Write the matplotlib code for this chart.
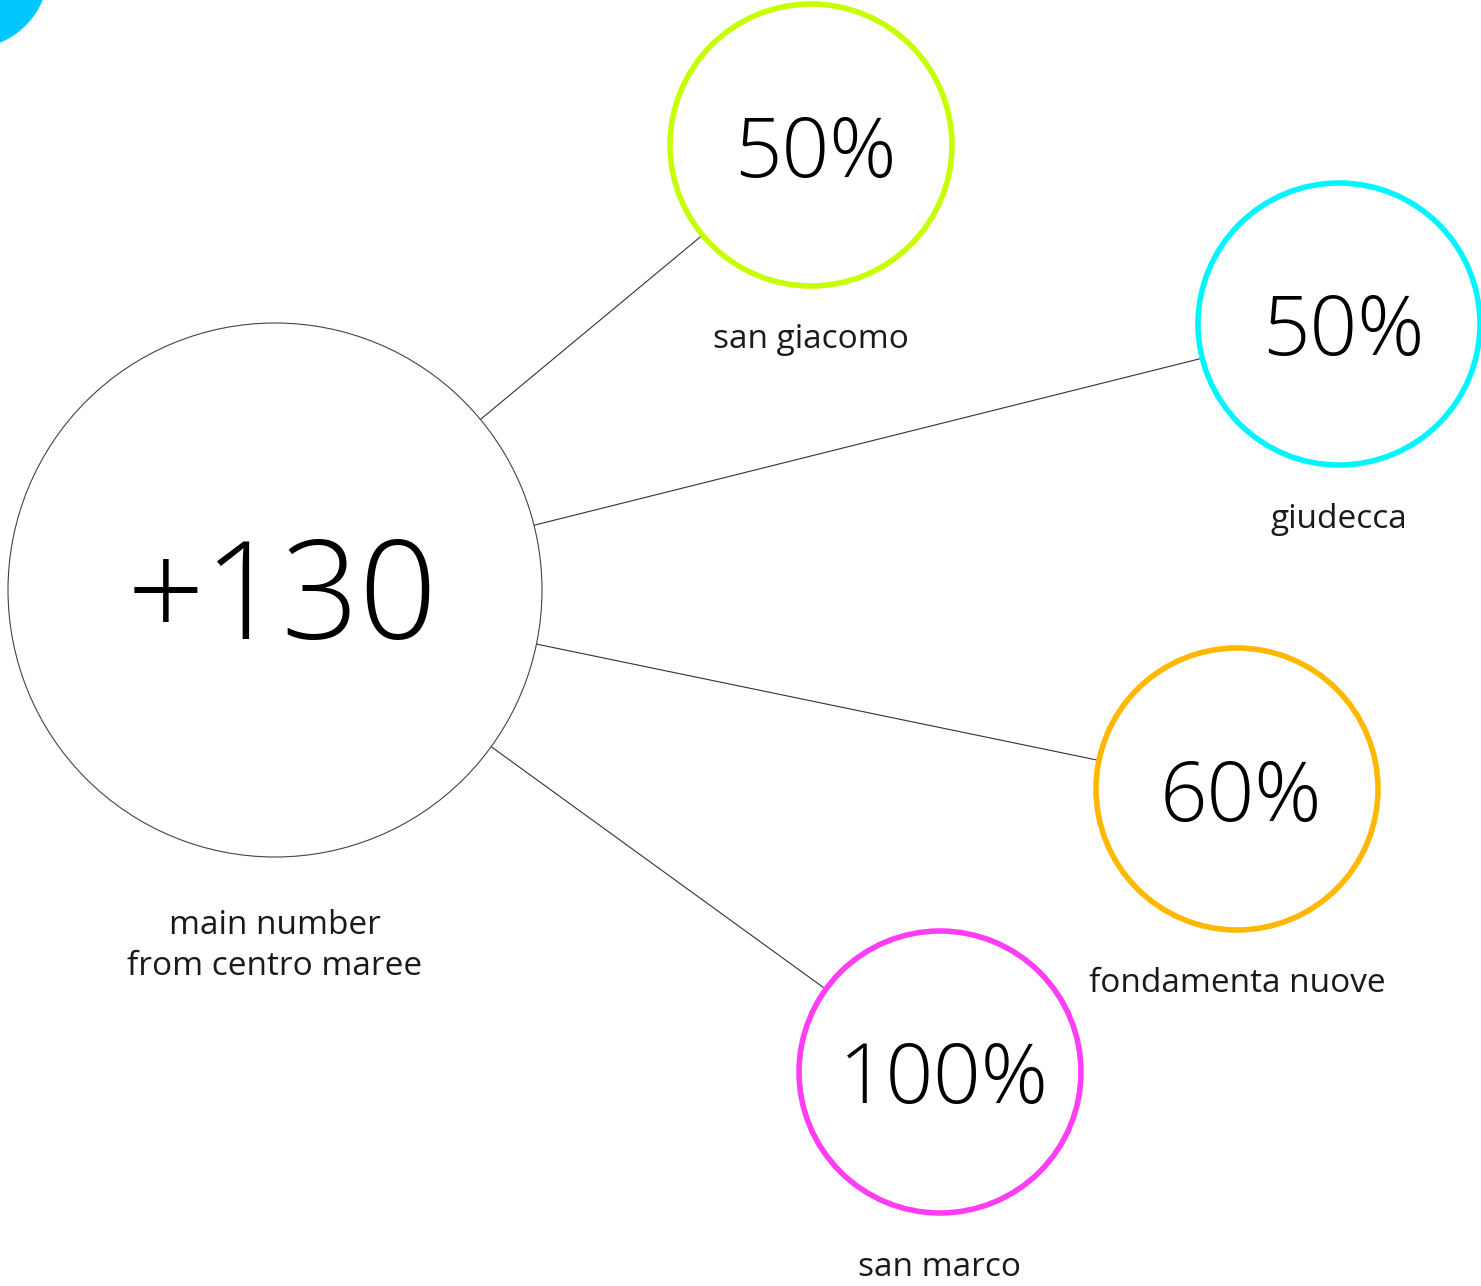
import matplotlib
matplotlib.use("Agg")
import matplotlib.pyplot as plt
from matplotlib.patches import Circle

# data
main_value = "+130"
main_label = "main number\nfrom centro maree"
places = ["san giacomo", "giudecca", "fondamenta nuove", "san marco"]
shares = [50, 50, 60, 100]

# layout (pixel space) and styles
W, H = 1481, 1286
main_xy, main_r = (275, 590), 267
small_xy = [(811, 145), (1339, 324), (1237, 789), (940, 1072)]
small_r = 141
label_dy = 195
colors = ["#c6ff00", "#00f5ff", "#ffb800", "#ff3df5"]

plt.rcParams['font.family'] = ['Open Sans', 'DejaVu Sans']

fig = plt.figure(figsize=(W / 100, H / 100), dpi=100)
ax = fig.add_axes([0, 0, 1, 1])
ax.set_xlim(0, W)
ax.set_ylim(H, 0)
ax.set_aspect('equal')
ax.axis('off')

# cyan blob in the corner
ax.add_patch(Circle((-30, -30), 78, color="#00c8ff", zorder=1))

# connectors, centre to centre, hidden under the white circles
for (x, y) in small_xy:
    ax.plot([main_xy[0], x], [main_xy[1], y], color="#333333", lw=0.8, zorder=1)

ax.add_patch(Circle(main_xy, main_r, facecolor="white", edgecolor="#444444",
                    lw=0.8, zorder=2))
ax.text(main_xy[0] + 7, main_xy[1] + 14, main_value, fontsize=98, fontweight='light',
        ha='center', va='center', color='black', zorder=3)
ax.text(main_xy[0], main_xy[1] + 356, main_label, fontsize=24, fontweight='normal',
        ha='center', va='center', color='#1a1a1a', linespacing=1.3, zorder=3)

for (x, y), name, val, c in zip(small_xy, places, shares, colors):
    ax.add_patch(Circle((x, y), small_r, facecolor="white", edgecolor=c,
                        lw=4, zorder=2))
    ax.text(x + 4, y + 10, f"{val}%", fontsize=60, fontweight='light',
            ha='center', va='center', color='black', zorder=3)
    ax.text(x, y + label_dy, name, fontsize=24, fontweight='normal',
            ha='center', va='center', color='#1a1a1a', zorder=3)

fig.savefig("out.png", dpi=100, facecolor="white")
